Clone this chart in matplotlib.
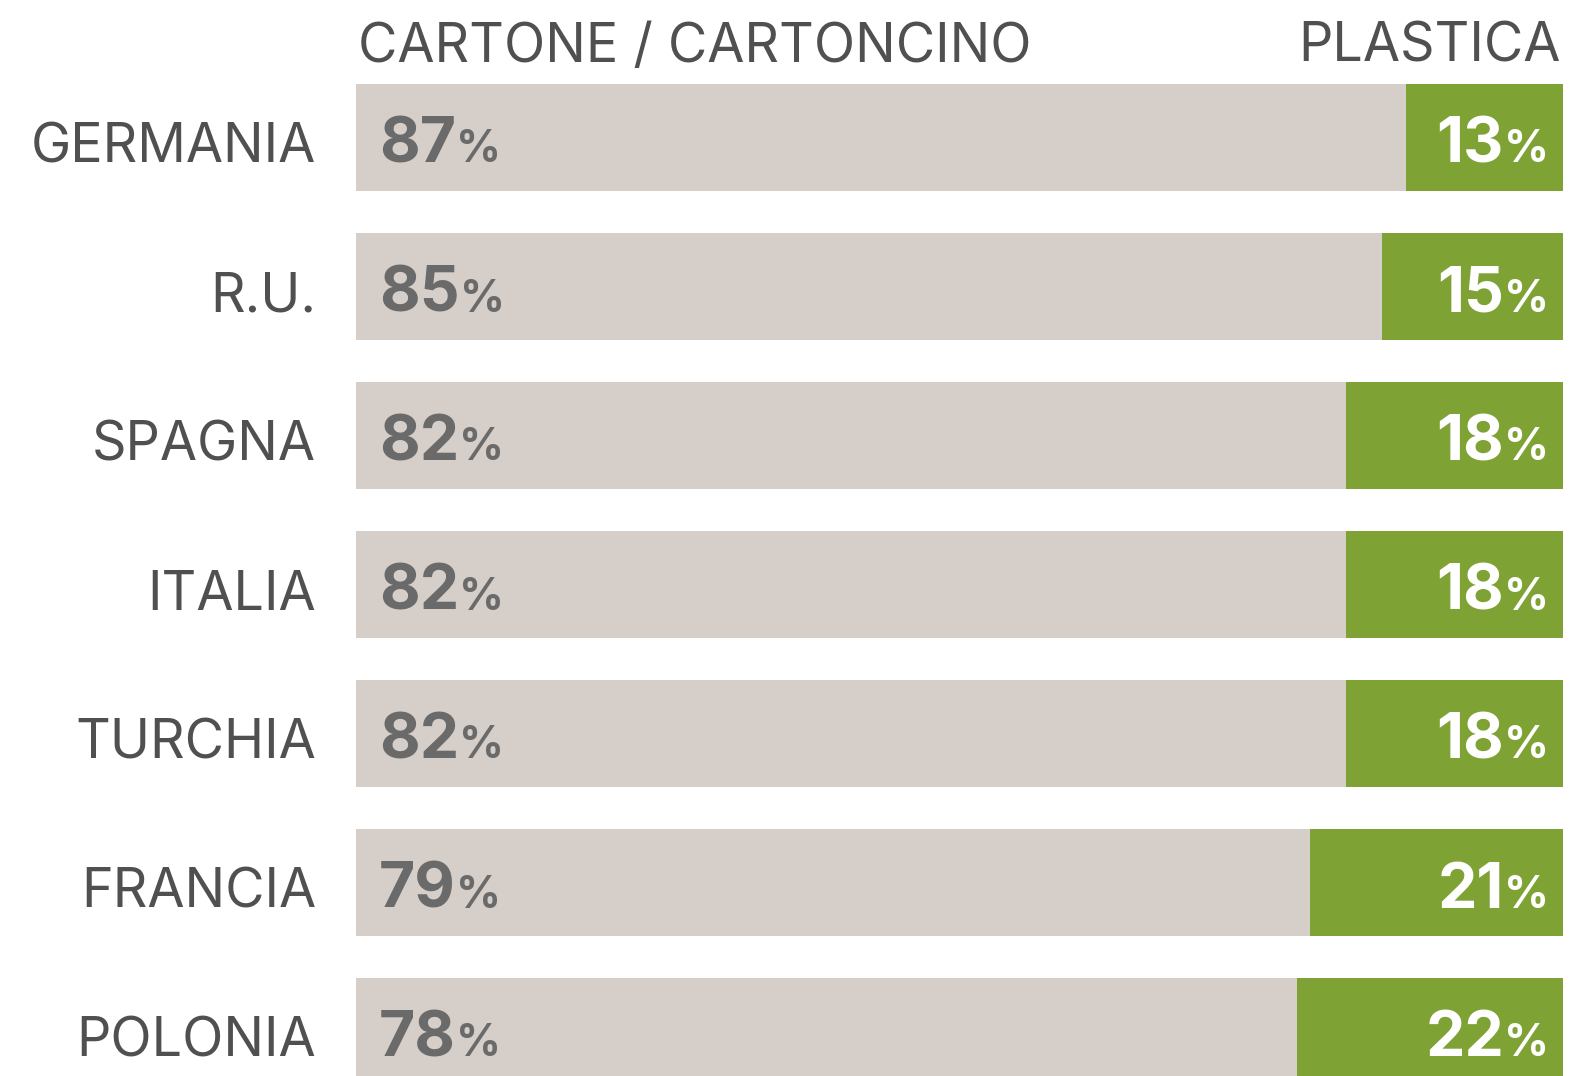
"""Cardboard vs plastic packaging share by country: stacked 100% horizontal bars."""

import matplotlib

matplotlib.use("Agg")

import matplotlib.pyplot as plt

countries = ["GERMANIA", "R.U.", "SPAGNA", "ITALIA", "TURCHIA", "FRANCIA", "POLONIA"]
cartone = [87, 85, 82, 82, 82, 79, 78]
plastica = [13, 15, 18, 18, 18, 21, 22]

GREY = "#d5cec9"
GREEN = "#7fa234"
LABEL = "#505050"
NUM = "#6a6a6a"
FONT = "Inter"

W, H, DPI = 1575, 1076, 100
fig = plt.figure(figsize=(W / DPI, H / DPI), dpi=DPI)
ax = fig.add_axes([0, 0, 1, 1])

# pixel mapping: bar start at x=356, full bar (100%) ends at x=1563
px_per_unit = (1563 - 356) / 100
ax.set_xlim(-356 / px_per_unit, (W - 356) / px_per_unit)
# row centres at y=137.5 + 149*i pixels
pitch, first = 149, 137.5
ax.set_ylim((H - first) / pitch, -first / pitch)
ax.axis("off")

ypos = list(range(len(countries)))
ax.barh(ypos, cartone, height=0.72, color=GREY, linewidth=0)
ax.barh(ypos, plastica, left=cartone, height=0.72, color=GREEN, linewidth=0)

base = 25 / pitch  # baseline offset below row centre
for y, name in zip(ypos, countries):
    ax.text(-40 / px_per_unit, y + base, name, ha="right", va="baseline",
            fontsize=38.8, color=LABEL, family=FONT)

head = (62 - first) / pitch
ax.text(0.2, head, "CARTONE / CARTONCINO", ha="left", va="baseline",
        fontsize=38.8, color=LABEL, family=FONT)
ax.text(99.8, head, "PLASTICA", ha="right", va="baseline",
        fontsize=38.8, color=LABEL, family=FONT)

fig.canvas.draw()
renderer = fig.canvas.get_renderer()
inv = ax.transData.inverted()

for y, c, p in zip(ypos, cartone, plastica):
    # left value inside grey bar
    t = ax.text(23 / px_per_unit, y + base, f"{c}", ha="left", va="baseline",
                fontsize=45, fontweight="bold", color=NUM, family=FONT)
    bb = t.get_window_extent(renderer)
    x1 = inv.transform((bb.x1, bb.y0))[0]
    ax.text(x1, y + base, "%", ha="left", va="baseline",
            fontsize=32, fontweight="bold", color=NUM, family=FONT)
    # right value inside green bar
    pc = ax.text(100 - 14 / px_per_unit, y + base, "%", ha="right", va="baseline",
                 fontsize=32, fontweight="bold", color="white", family=FONT)
    bb = pc.get_window_extent(renderer)
    x0 = inv.transform((bb.x0, bb.y0))[0]
    ax.text(x0, y + base, f"{p}", ha="right", va="baseline",
            fontsize=45, fontweight="bold", color="white", family=FONT)

fig.savefig("out.png", dpi=DPI)
plt.close(fig)
